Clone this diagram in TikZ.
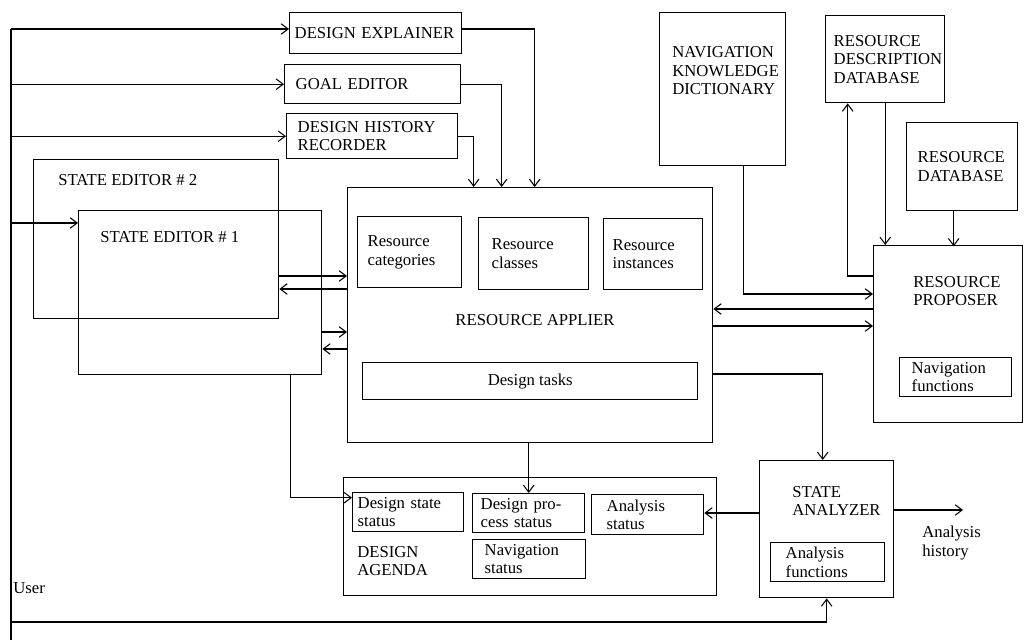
\documentclass[tikz,border=0pt]{standalone}
\usepackage{fontspec}
\setmainfont{Liberation Serif}
\usepackage{tikz}
\usetikzlibrary{arrows.meta}
\hyphenpenalty=10000

\tikzset{
	box/.style={draw, line width=0.8pt, anchor=north west},
	sbox/.style={draw, line width=0.8pt, anchor=north west, align=left, inner ysep=0pt},
	lbl/.style={anchor=west, align=left, inner sep=0pt},
	conn/.style={line width=0.6pt},
	arr/.style={conn, -{Straight Barb[length=4pt,width=6pt]}}
}

\begin{document}
\begin{tikzpicture}[x=0.02cm, y=-0.02cm, font=\fontsize{9.5}{10.5}\selectfont]
			
			\useasboundingbox (0,0) rectangle (1025,642);
			
			\node[sbox, inner xsep=0.10cm, text width=3.24cm, minimum height=0.82cm] (expl) at (289,12) {DESIGN EXPLAINER};
			\node[sbox, inner xsep=0.22cm, text width=3.08cm, minimum height=0.78cm] (goal) at (284,64) {GOAL EDITOR};
			\node[sbox, inner xsep=0.22cm, text width=2.98cm, minimum height=0.90cm] (hist) at (286,113) {DESIGN HISTORY\\RECORDER};
			
			\node[box, minimum width=4.90cm, minimum height=3.18cm] (se2) at (33,159) {};
			\node[box, minimum width=4.86cm, minimum height=3.28cm] (se1) at (78,210) {};
			\node[lbl] (se2t) at (58,180) {STATE EDITOR \# 2};
			\node[lbl] (se1t) at (100,237) {STATE EDITOR \# 1};
			
			\node[box, minimum width=7.30cm, minimum height=5.10cm] (ra) at (347,187) {};
			\node[sbox, inner xsep=0.20cm, text width=1.68cm, minimum height=1.42cm] (cat) at (357,216) {Resource\\categories};
			\node[sbox, inner xsep=0.26cm, text width=1.68cm, minimum height=1.44cm] (cls) at (478,217) {Resource\\classes};
			\node[sbox, inner xsep=0.18cm, text width=1.62cm, minimum height=1.42cm] (inst) at (603,218) {Resource\\instances};
			\node (rat) at (535,320) {RESOURCE APPLIER};
			\node[box, minimum width=6.70cm, minimum height=0.74cm] (tasks) at (362,362) {Design tasks};
			
			\node[box, minimum width=7.46cm, minimum height=2.36cm] (da) at (343,477) {};
			\node[sbox, inner xsep=0.10cm, text width=2.02cm, minimum height=0.78cm] (dss) at (352,492) {Design state\\status};
			\node[sbox, inner xsep=0.16cm, text width=1.92cm, minimum height=0.78cm] (dps) at (472,493) {Design pro-\\cess status};
			\node[sbox, inner xsep=0.30cm, text width=1.64cm, minimum height=0.80cm] (ans) at (591,494) {Analysis\\status};
			\node[sbox, inner xsep=0.24cm, text width=1.78cm, minimum height=0.78cm] (navs) at (472,539) {Navigation\\status};
			\node[lbl] (dat) at (357,561) {DESIGN\\AGENDA};
			
			\node[box, minimum width=2.52cm, minimum height=3.06cm] (nkd) at (659,12) {};
			\node[lbl] (nkdt) at (672,71) {NAVIGATION\\KNOWLEDGE\\DICTIONARY};
			\node[sbox, inner xsep=0.16cm, text width=2.06cm, minimum height=1.74cm] (rdd) at (825,15) {RESOURCE\\DESCRIPTION\\DATABASE};
			\node[sbox, inner xsep=0.22cm, text width=1.78cm, minimum height=1.76cm] (rd) at (906,122) {RESOURCE\\DATABASE};
			
			\node[box, minimum width=2.98cm, minimum height=3.54cm] (rp) at (873,245) {};
			\node[lbl] (rpt) at (913,291) {RESOURCE\\PROPOSER};
			\node[sbox, inner xsep=0.24cm, text width=1.76cm, minimum height=0.78cm] (navf) at (899,357) {Navigation\\functions};
			
			\node[box, minimum width=2.68cm, minimum height=2.74cm] (sa) at (759,460) {};
			\node[lbl] (sat) at (792,501) {STATE\\ANALYZER};
			\node[sbox, inner xsep=0.30cm, text width=1.68cm, minimum height=0.78cm] (anf) at (770,542) {Analysis\\functions};
			\node[lbl] (histt) at (922,543) {Analysis\\history};
			\node[lbl] (usrt) at (13,588) {User};
			
			\coordinate (usr) at (11,29);
			\coordinate (usrend) at (11,640);
			\coordinate (se1in) at ([yshift=-0.26cm]se1.north west);
			\coordinate (histout) at (963,510);
			
			\draw[conn] (usr) -- (usrend);
			\draw[arr] (usr) -- (usr -| expl.west);
			\draw[arr] (usr |- goal.west) -- (goal.west);
			\draw[arr] (usr |- hist.west) -- (hist.west);
			\draw[arr] (usr |- se1in) -- (se1in);
			\draw[arr] (usr |- 0,622) -| (sa.south);
			
			\draw[arr] (expl.east |- usr) -| ([xshift=0.09cm]ra.north);
			\draw[arr] (goal.east) -| ([xshift=-0.57cm]ra.north);
			\draw[arr] (hist.east) -| ([xshift=-1.13cm]ra.north);
			
			\draw[arr] (se2.east |- 0,276) -- (ra.west |- 0,276);
			\draw[arr] (ra.west |- 0,289) -- (se2.east |- 0,289);
			\draw[arr] (se1.east |- 0,332) -- (ra.west |- 0,332);
			\draw[arr] (ra.west |- 0,349) -- (se1.east |- 0,349);
			\draw[arr] ([xshift=1.81cm]se1.south) |- ([yshift=0.29cm]dss.west);
			
			\draw[arr] (ra.south -| dps.north) -- (dps.north);
			\draw[arr] (ra.east |- 0,374) -| ([xshift=-0.08cm]sa.north);
			\draw[arr] (sa.west |- 0,513) -- (ans.east |- 0,513);
			\draw[arr] (sa.east |- histout) -- (histout);
			
			\draw[arr] ([xshift=0.42cm]nkd.south) |- (rp.west |- 0,294);
			\draw[arr] (rp.west |- 0,309) -- (ra.east |- 0,309);
			\draw[arr] (ra.east |- 0,326) -- (rp.west |- 0,326);
			\draw[arr] (rp.west |- 0,276) -| ([xshift=-0.75cm]rdd.south);
			\draw[arr] (rdd.south) -- (rdd.south |- rp.north);
			\draw[arr] ([xshift=-0.17cm]rd.south) -- ++(0,35);
			
		\end{tikzpicture}
\end{document}
